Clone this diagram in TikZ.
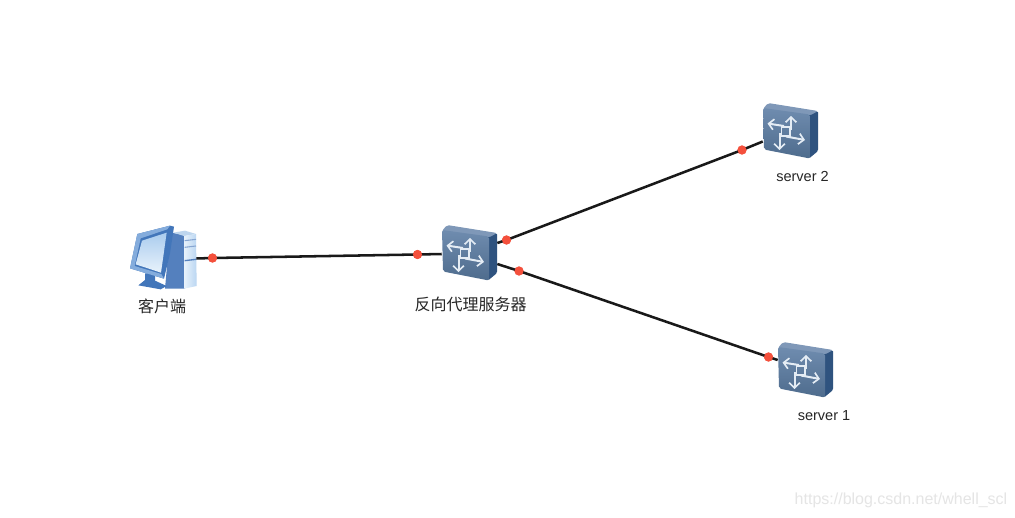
\documentclass[tikz,border=0pt]{standalone}
\usepackage{fontspec}
\setmainfont{Liberation Sans}
\newfontfamily\cjkfont{Noto Sans CJK SC}
\usetikzlibrary{arrows.meta}
\definecolor{swfront}{HTML}{557599}
\definecolor{swfronttop}{HTML}{6F8CAF}
\definecolor{swtop}{HTML}{7F98B8}
\definecolor{swside}{HTML}{2F537F}
\definecolor{dotred}{HTML}{F4503C}
\definecolor{arrowwhite}{HTML}{E4ECF4}
\definecolor{pcside}{RGB}{84,128,190}
\definecolor{pctop}{RGB}{190,214,238}
\definecolor{pcfrontl}{RGB}{232,242,251}
\definecolor{pcfrontr}{RGB}{186,214,242}
\definecolor{pcdark}{RGB}{66,118,186}
\definecolor{pcbezel}{RGB}{132,172,220}
\definecolor{pcscreenl}{RGB}{232,242,251}
\definecolor{pcscreend}{RGB}{170,204,238}
\tikzset{
  x=0.75pt,y=-0.75pt,
  link/.style={draw=black!90,line width=1.9pt},
  reddot/.style={circle,fill=dotred,inner sep=0pt,minimum size=6.8pt},
  iconbox/.style={inner sep=0pt,minimum width=41.25pt,minimum height=41.25pt},
  latinlabel/.style={inner sep=0pt,font=\fontsize{10.9pt}{12pt}\selectfont,text=black!85},
  cjklabel/.style={inner sep=0pt,font=\cjkfont\fontsize{12pt}{14pt}\selectfont,text=black!85},
  swarrow/.style={draw=arrowwhite,line width=1.5pt,-{Straight Barb[length=3.8pt,width=8pt,line width=1.25pt]}},
  switchicon/.pic={
    \fill[swside,rounded corners=1pt] (46,11.5) -- (55,8) -- (55,48) -- (46,55.5) -- cycle;
    \fill[swtop,rounded corners=1.5pt] (0,6) -- (5,0) -- (55,8) -- (47,12.5) -- cycle;
    \shade[top color=swfronttop,bottom color=swfront!92!black,rounded corners=1.5pt]
      (0,5) -- (47,11.5) -- (47,55.5) -- (1,46.5) -- cycle;
    \draw[swarrow] (21,23) -- (4.5,20.5);
    \draw[swarrow] (28,27) -- (28,13);
    \draw[swarrow] (23,33.5) -- (42,37);
    \draw[swarrow] (16.5,30) -- (16.5,47);
    \draw[arrowwhite,line width=1pt] (18.5,24) rectangle (27,33);
  },
  clienticon/.pic={
    \begin{scope}[x=0.25pt,y=-0.25pt]
      \fill[pcside] (150,68) -- (195,74) -- (195,236) -- (135,236) -- cycle;
      \fill[pctop] (160,68) -- (195,62) -- (228,72) -- (192,78) -- cycle;
      \shade[left color=pcfrontl,right color=pcfrontr] (192,78) -- (228,72) -- (230,228) -- (192,236) -- cycle;
      \draw[pcside!70!white,line width=.8pt] (194,92) -- (228,88) (194,112) -- (228,108);
      \draw[pcside,line width=1pt] (194,152) -- (228,148);
      \fill[pcdark] (75,190) -- (105,190) -- (105,212) -- (140,228) -- (122,238) -- (55,226) -- (75,210) -- cycle;
      \fill[pcdark] (52,72) -- (150,47) -- (162,50) -- (150,130) -- (132,206) -- (30,175) -- cycle;
      \fill[pcbezel] (30,175) -- (52,72) -- (150,47) -- (142,58) -- (62,85) -- (44,168) -- (124,192) -- (132,206) -- cycle;
      \shade[top color=pcscreend,bottom color=pcscreenl] (66,92) -- (140,68) -- (123,188) -- (47,163) -- cycle;
    \end{scope}
  },
}
\begin{document}
\begin{tikzpicture}
  \useasboundingbox[fill=white] (0,0) rectangle (1015,518);
  \node[iconbox] (client) at (168,258.5) {};
  \node[iconbox] (proxy) at (469.5,254) {};
  \node[iconbox] (srvtwo) at (790.5,141.5) {};
  \node[iconbox] (srvone) at (805.5,360) {};
  \node[reddot] (d1) at (212.5,258) {};
  \node[reddot] (d2) at (417.5,254.5) {};
  \node[reddot] (d3) at (506.5,240) {};
  \node[reddot] (d4) at (742,150) {};
  \node[reddot] (d5) at (519,271) {};
  \node[reddot] (d6) at (768.5,357) {};
  \draw[link] (client.east) -- (d1.center) -- (d2.center) -- (proxy.west);
  \draw[link] ([yshift=8.25pt]proxy.east) -- (d3.center) -- (d4.center) -- (srvtwo.west);
  \draw[link] ([yshift=-7.5pt]proxy.east) -- (d5.center) -- (d6.center) -- (srvone.west);
  \node[reddot] at (d1) {};
  \node[reddot] at (d2) {};
  \node[reddot] at (d3) {};
  \node[reddot] at (d4) {};
  \node[reddot] at (d5) {};
  \node[reddot] at (d6) {};
  \pic at (120,210) {clienticon};
  \pic at (442,225) {switchicon};
  \pic at (763,103) {switchicon};
  \pic at (778,342) {switchicon};
  \node[cjklabel] (lclient) at (162,306) {客户端};
  \node[cjklabel] (lproxy) at (470.5,304) {反向代理服务器};
  \node[latinlabel] (ltwo) at (802.5,176) {server 2};
  \node[latinlabel] (lone) at (824,416) {server 1};
  \node[inner sep=0pt,font=\fontsize{12pt}{14pt}\selectfont,text=black!10] (mark) at (901,500) {https://blog.csdn.net/whell\_scl};
\end{tikzpicture}
\end{document}
